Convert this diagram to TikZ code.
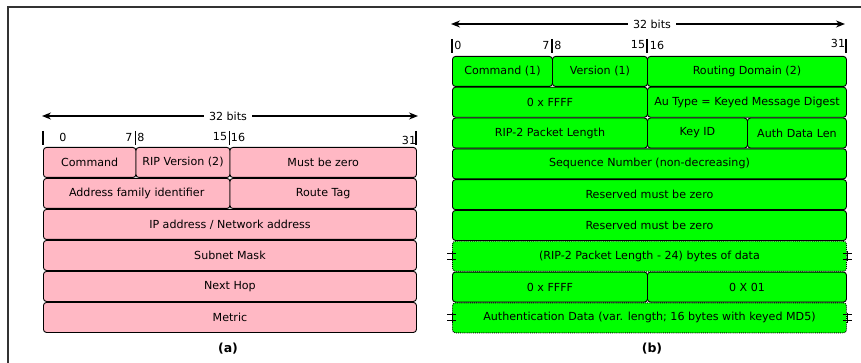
\documentclass[tikz,border=0pt]{standalone}
\usepackage{fontspec}
\setmainfont{DejaVu Sans}
\usetikzlibrary{arrows.meta}
\definecolor{ripPink}{RGB}{255,184,196}
\definecolor{ripGreen}{RGB}{0,255,0}

\begin{document}
\begin{tikzpicture}[x=1pt, y=-1pt, font=\fontsize{11.1}{13}\selectfont,
  field/.style={draw, rounded corners=3pt, line width=0.9pt, fill=#1, minimum height=30pt, inner sep=0pt, anchor=north west},
  varfield/.style={field=#1, densely dotted},
  bitno/.style={inner sep=0pt},
  bitbar/.style={line width=1.2pt},
  bitarrow/.style={-{Stealth[length=9pt,width=7pt]}, line width=1.3pt},
  brk/.style={line width=0.8pt},
  caption/.style={font=\bfseries\fontsize{12.5}{14}\selectfont}]
\useasboundingbox (0,0) rectangle (861,363);
\draw[line width=1.8pt, black!80] (861,7) -| (8,363);

% (a) RIP version 2 entry
\coordinate (aL) at (42,116);
\coordinate (aR) at (418,116);
\node[inner sep=5pt] (abits) at (228,116) {32 bits};
\draw[bitarrow] (abits) -- (aL);
\draw[bitarrow] (abits) -- (aR);
\foreach \x in {43,135.5,229.5,416} \draw[bitbar] (\x,131) -- (\x,145);
\node[bitno] (a0) at (63,137) {0};
\node[bitno] (a7) at (129,137) {7};
\node[bitno] (a8) at (141,137) {8};
\node[bitno] (a15) at (220,137) {15};
\node[bitno] (a16) at (238,137) {16};
\node[bitno] (a31) at (409,140) {31};
\node[field=ripPink, minimum width=92.5pt] (acmd) at (43,147) {Command};
\node[field=ripPink, minimum width=94pt] (aver) at (135.5,147) {RIP Version (2)};
\node[field=ripPink, minimum width=186.5pt] (azero) at (229.5,147) {Must be zero};
\node[field=ripPink, minimum width=186.5pt] (afam) at (43,178) {Address family identifier};
\node[field=ripPink, minimum width=186.5pt] (atag) at (229.5,178) {Route Tag};
\foreach \txt [count=\i from 2] in {IP address / Network address, Subnet Mask, Next Hop, Metric}
  \node[field=ripPink, minimum width=373pt] (arow\i) at (43,147+31*\i) {\txt};
\node[caption] (acap) at (228,349) {(a)};

% (b) RIP-2 authentication
\coordinate (bL) at (451,24);
\coordinate (bR) at (845,24);
\node[inner sep=5pt] (bbits) at (652,24) {32 bits};
\draw[bitarrow] (bbits) -- (bL);
\draw[bitarrow] (bbits) -- (bR);
\foreach \x in {452,552,647,846} \draw[bitbar] (\x,39) -- (\x,53);
\node[bitno] (b0) at (458,45) {0};
\node[bitno] (b7) at (546,45) {7};
\node[bitno] (b8) at (558,45) {8};
\node[bitno] (b15) at (638,45) {15};
\node[bitno] (b16) at (657,45) {16};
\node[bitno] (b31) at (838,43) {31};
\node[field=ripGreen, minimum width=100pt] (bcmd) at (452,56) {Command (1)};
\node[field=ripGreen, minimum width=95pt] (bver) at (552,56) {Version (1)};
\node[field=ripGreen, minimum width=199pt] (bdom) at (647,56) {Routing Domain (2)};
\node[field=ripGreen, minimum width=195pt] (bffff) at (452,86.8) {0 x FFFF};
\node[field=ripGreen, minimum width=199pt] (btype) at (647,86.8) {Au Type = Keyed Message Digest};
\node[field=ripGreen, minimum width=195pt] (blen) at (452,117.6) {RIP-2 Packet Length};
\node[field=ripGreen, minimum width=100pt] (bkey) at (647,117.6) {Key ID};
\node[field=ripGreen, minimum width=99pt] (bauth) at (747,117.6) {Auth Data Len};
\node[field=ripGreen, minimum width=394pt] (bseq) at (452,148.4) {Sequence Number (non-decreasing)};
\node[field=ripGreen, minimum width=394pt] (bres1) at (452,179.2) {Reserved must be zero};
\node[field=ripGreen, minimum width=394pt] (bres2) at (452,210) {Reserved must be zero};
\node[varfield=ripGreen, minimum width=394pt] (bdata) at (452,240.8) {(RIP-2 Packet Length - 24) bytes of data};
\node[field=ripGreen, minimum width=195pt] (btrl) at (452,271.6) {0 x FFFF};
\node[field=ripGreen, minimum width=199pt] (bone) at (647,271.6) {0 X 01};
\node[varfield=ripGreen, minimum width=394pt] (bmd5) at (452,302.4) {Authentication Data (var. length; 16 bytes with keyed MD5)};
\foreach \n in {bdata,bmd5} {
  \draw[brk] (\n.west) ++(-5,-3) -- ++(9,0) ++(-9,6) -- ++(9,0) (\n.west) ++(0,-5) -- ++(0,10);
  \draw[brk] (\n.east) ++(-4,-3) -- ++(9,0) ++(-9,6) -- ++(9,0) (\n.east) ++(0,-5) -- ++(0,10);
}
\node[caption] (bcap) at (652,349) {(b)};
\end{tikzpicture}
\end{document}
